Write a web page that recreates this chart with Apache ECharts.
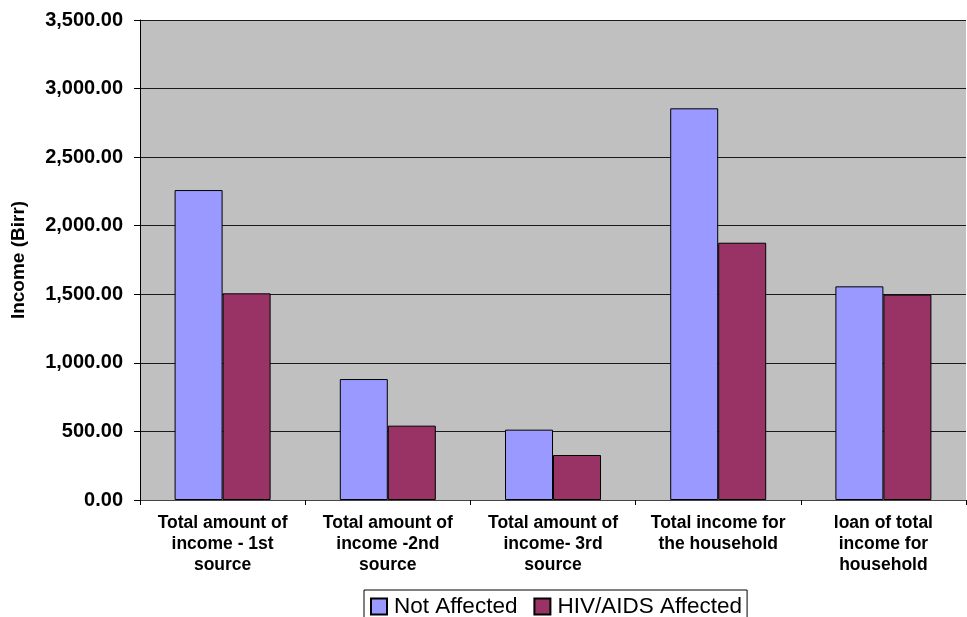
<!DOCTYPE html>
<html>
<head>
<meta charset="utf-8">
<script src="https://cdn.jsdelivr.net/npm/echarts@6/dist/echarts.min.js"></script>
<style>
  html, body { margin: 0; padding: 0; background: #fff; }
  #chart { width: 967px; height: 617px; }
</style>
</head>
<body>
<div id="chart"></div>
<script>
// Household income by source, Birr
const categories = [
  'Total amount of\nincome - 1st\nsource',
  'Total amount of\nincome -2nd\nsource',
  'Total amount of\nincome- 3rd\nsource',
  'Total income for\nthe household',
  'loan of total\nincome for\nhousehold'
];
const notAffected = [2260, 882, 513, 2856, 1558];
const hivAffected = [1507, 542, 328, 1876, 1497];
const seriesNames = ['Not Affected', 'HIV/AIDS Affected'];
const yTicks = { min: 0, max: 3500, interval: 500 };

const FONT = '"Liberation Sans", Arial, sans-serif';

const chart = echarts.init(document.getElementById('chart'), null, { renderer: 'canvas' });

chart.setOption({
  animation: false,
  backgroundColor: '#ffffff',
  grid: {
    left: 140, right: 1, top: 20, bottom: 117,
    show: true,
    backgroundColor: '#c0c0c0',
    borderWidth: 0
  },
  legend: {
    data: seriesNames,
    left: 364,
    top: 590,
    orient: 'horizontal',
    backgroundColor: '#ffffff',
    borderColor: '#000000',
    borderWidth: 1,
    padding: [5, 5, 8, 6],
    itemGap: 16,
    itemWidth: 16,
    itemHeight: 16,
    icon: 'rect',
    textStyle: { fontFamily: FONT, fontSize: 22.5, color: '#000', padding: [0, 0, 0, 2] }
  },
  xAxis: {
    type: 'category',
    data: categories,
    boundaryGap: true,
    axisLine: { show: true, lineStyle: { color: '#444', width: 1 } },
    axisTick: { show: true, length: 5, inside: false, lineStyle: { color: '#000' } },
    axisLabel: {
      interval: 0,
      margin: 13,
      fontFamily: FONT,
      fontSize: 17.5,
      fontWeight: 'bold',
      color: '#000',
      lineHeight: 21,
      align: 'center'
    },
    splitLine: { show: false }
  },
  yAxis: {
    type: 'value',
    min: yTicks.min,
    max: yTicks.max,
    interval: yTicks.interval,
    name: 'Income (Birr)',
    nameLocation: 'middle',
    nameGap: 112,
    nameRotate: 90,
    nameTextStyle: { fontFamily: FONT, fontSize: 19, fontWeight: 'bold', color: '#000' },
    axisLine: { show: true, lineStyle: { color: '#000', width: 1 } },
    axisTick: { show: true, length: 6, inside: false, lineStyle: { color: '#000' } },
    axisLabel: {
      margin: 17,
      fontFamily: FONT,
      fontSize: 20,
      fontWeight: 'bold',
      color: '#000',
      formatter: v => v.toLocaleString('en-US', { minimumFractionDigits: 2, maximumFractionDigits: 2 })
    },
    splitLine: { show: true, lineStyle: { color: '#1a1a1a', width: 1 } }
  },
  series: [
    {
      name: seriesNames[0],
      type: 'bar',
      data: notAffected,
      barWidth: 48,
      barGap: '0%',
      itemStyle: { color: '#9999ff', borderColor: '#000', borderWidth: 1 }
    },
    {
      name: seriesNames[1],
      type: 'bar',
      data: hivAffected,
      barWidth: 48,
      barGap: '0%',
      itemStyle: { color: '#993366', borderColor: '#000', borderWidth: 1 }
    }
  ]
});
</script>
</body>
</html>
